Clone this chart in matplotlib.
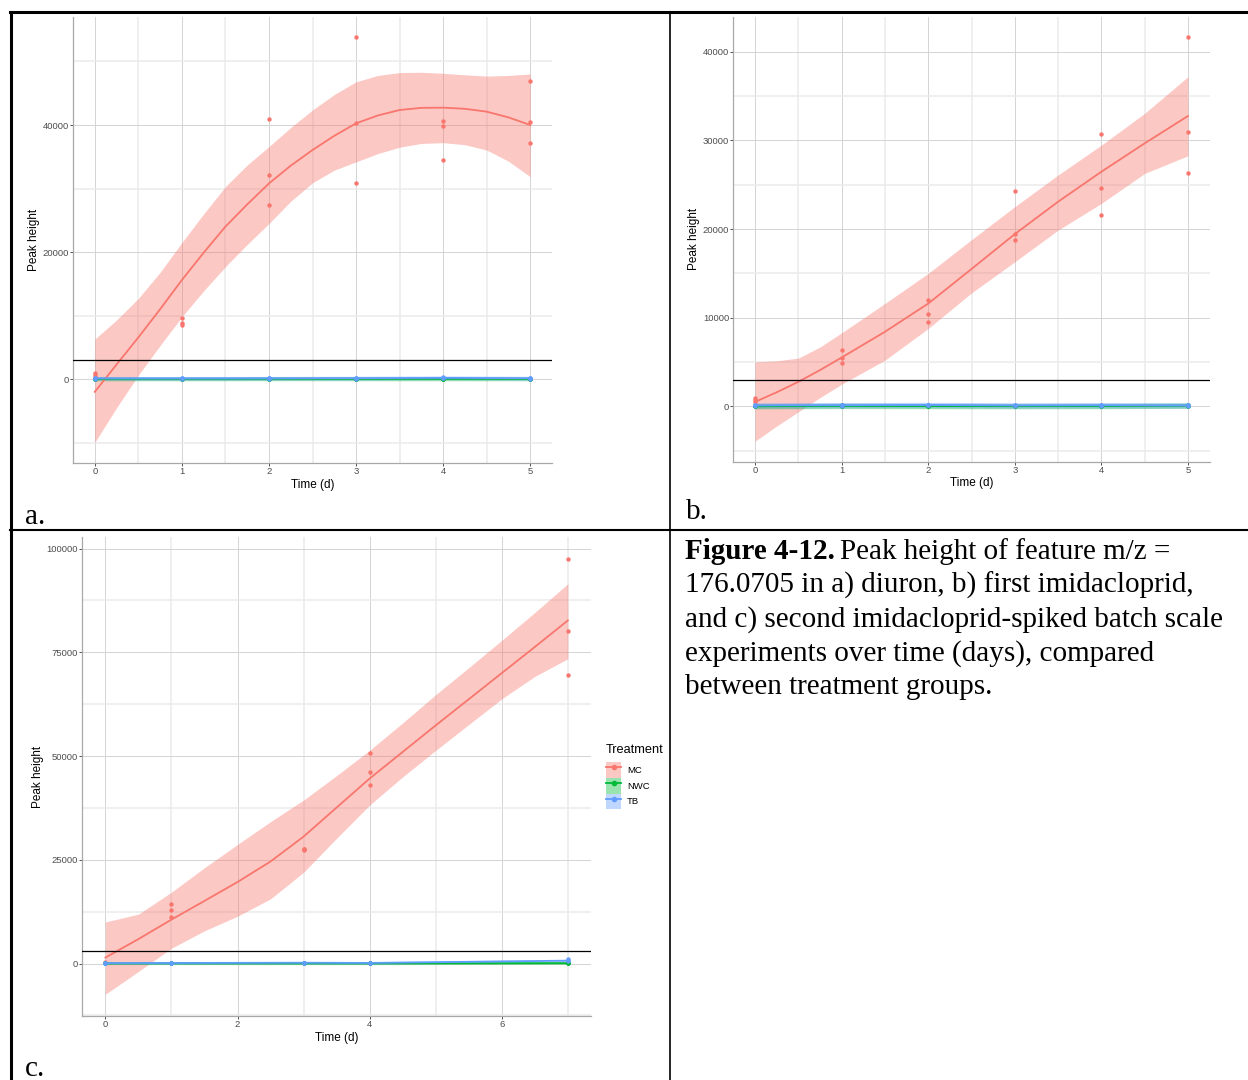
import matplotlib.pyplot as plt
from matplotlib.patches import Patch
from matplotlib.lines import Line2D

plt.rcParams['font.family'] = ['Liberation Sans', 'DejaVu Sans']

W, H = 1248, 1080
MC_COL = '#F8766D'
NWC_COL = '#00BA38'
TB_COL = '#619CFF'
LOQ = 3000

# a) diuron batch
a_days = [0, 1, 2, 3, 4, 5]
a_mc = [[300, 600, 900], [9600, 8900, 8500], [40950, 32200, 27450],
        [53800, 40300, 30800], [40600, 39800, 34500], [47000, 40400, 37200]]
a_nwc = [[20, 40, 60], [30, 40, 50], [40, 50, 70], [30, 40, 60], [20, 40, 50], [30, 40, 60]]
a_tb = [[80, 120, 150], [90, 110, 140], [100, 130, 160], [90, 120, 150], [150, 250, 350], [100, 140, 180]]
a_fit_x = [0, 0.25, 0.5, 0.75, 1, 1.25, 1.5, 1.75, 2, 2.25, 2.5, 2.75, 3,
           3.25, 3.5, 3.75, 4, 4.25, 4.5, 4.75, 5]
a_fit_mc = [-2000, 2300, 6560, 11000, 15600, 19900, 24000, 27500, 30800, 33600, 36060,
            38300, 40260, 41500, 42360, 42700, 42730, 42550, 42100, 41200, 40000]
a_lo_mc = [-9970, -4500, 600, 5300, 9800, 13900, 17700, 21200, 24500, 28000, 30900,
           32900, 34200, 35500, 36500, 37100, 37220, 36900, 36060, 34300, 31860]
a_hi_mc = [6300, 9300, 12700, 16800, 21500, 26000, 30300, 33700, 36600, 39600, 42360,
           44800, 46800, 47800, 48250, 48300, 48140, 47900, 47700, 47800, 48030]
a_fit_nwc = [40, 40, 50, 45, 40, 45]
a_fit_tb = [120, 115, 130, 150, 200, 140]

# b) first imidacloprid batch
b_days = [0, 1, 2, 3, 4, 5]
b_mc = [[1000, 700, 450], [6350, 5520, 4920], [11950, 10370, 9470],
        [24280, 19430, 18720], [30750, 24660, 21610], [41620, 30900, 26350]]
b_nwc = [[20, 40, 60], [40, 80, 150], [30, 50, 70], [20, 40, 60], [30, 50, 70], [50, 100, 150]]
b_tb = [[80, 120, 150], [100, 150, 200], [120, 180, 220], [90, 120, 150], [100, 140, 180], [90, 120, 150]]
b_fit_x = [0, 0.25, 0.5, 0.75, 1, 1.5, 2, 2.5, 3, 3.5, 4, 4.5, 5]
b_fit_mc = [520, 1600, 2780, 4100, 5520, 8420, 11600, 15500, 19430, 23080, 26460, 29660, 32740]
b_lo_mc = [-3910, -2200, -600, 1000, 2510, 5220, 8790, 12800, 16310, 19880, 22890, 26270, 28260]
b_hi_mc = [5030, 5150, 5450, 6700, 8300, 11610, 15000, 18800, 22520, 26090, 29460, 33040, 37170]
b_fit_nwc = [30, 60, 50, 40, 50, 90]
b_fit_tb = [120, 150, 170, 120, 140, 120]

# c) second imidacloprid batch
c_days = [0, 1, 3, 4, 7]
c_mc = [[100, 200, 300], [14450, 13000, 11220], [27700, 27290, 27500],
        [50800, 46200, 43100], [97540, 80110, 69600]]
c_nwc = [[20, 40, 60], [30, 50, 70], [20, 40, 60], [30, 40, 50], [50, 100, 150]]
c_tb = [[80, 120, 150], [100, 140, 180], [150, 200, 250], [100, 150, 200], [600, 900, 1200]]
c_fit_x = [0, 0.5, 1, 1.5, 2, 2.5, 3, 3.5, 4, 4.5, 5, 5.5, 6, 6.5, 7]
c_fit_mc = [1440, 5900, 10600, 15100, 19650, 24600, 30600, 37600, 44600,
            51000, 57400, 63700, 70000, 76300, 82680]
c_lo_mc = [-7390, -1900, 3700, 7900, 11400, 15600, 22000, 30200, 38200,
           45000, 51370, 57600, 63800, 69200, 73460]
c_hi_mc = [10020, 11900, 17200, 23100, 28700, 34200, 39400, 45300, 51400,
           58000, 64800, 71300, 77900, 84600, 91520]
c_fit_nwc = [40, 50, 40, 40, 100]
c_fit_tb = [120, 140, 200, 150, 700]

caption = ['176.0705 in a) diuron, b) first imidacloprid,',
           'and c) second imidacloprid-spiked batch scale',
           'experiments over time (days), compared',
           'between treatment groups.']


def box(left, top, right, bottom):
    return [left / W, 1 - bottom / H, (right - left) / W, (bottom - top) / H]


def draw_panel(ax, days, mc, nwc, tb, fit_x, fit_mc, lo_mc, hi_mc, fit_nwc, fit_tb):
    # smoothers first, points on top
    ax.fill_between(fit_x, lo_mc, hi_mc, color=MC_COL, alpha=0.4, lw=0)
    ax.plot(fit_x, fit_mc, color=MC_COL, lw=1.3, solid_joinstyle='round')
    for fit, col in [(fit_nwc, NWC_COL), (fit_tb, TB_COL)]:
        ax.fill_between(days, [v - 300 for v in fit], [v + 300 for v in fit],
                        color=col, alpha=0.4, lw=0)
        ax.plot(days, fit, color=col, lw=1.3)
    for vals, col in [(mc, MC_COL), (nwc, NWC_COL), (tb, TB_COL)]:
        for d, reps in zip(days, vals):
            ax.scatter([d] * len(reps), reps, s=10, color=col, lw=0, zorder=3)
    ax.axhline(LOQ, color='black', lw=0.9, zorder=4)

    ax.set_facecolor('white')
    for s in ['top', 'right']:
        ax.spines[s].set_visible(False)
    for s in ['left', 'bottom']:
        ax.spines[s].set_color('#A8A8A8')
        ax.spines[s].set_linewidth(0.9)
    ax.tick_params(which='major', length=2, width=0.6, color='#333333',
                   labelcolor='#4D4D4D', labelsize=6.8, pad=1)
    ax.tick_params(which='minor', length=0)
    ax.grid(which='major', color='#D4D4D4', lw=0.7)
    ax.grid(which='minor', color='#EBEBEB', lw=1.1)
    ax.set_axisbelow(True)
    ax.set_xlabel('Time (d)', fontsize=8.5, labelpad=2)
    ax.set_ylabel('Peak height', fontsize=8.5, labelpad=2)


fig = plt.figure(figsize=(W / 100, H / 100), dpi=100)

ax_a = fig.add_axes(box(73, 17, 552, 463))
draw_panel(ax_a, a_days, a_mc, a_nwc, a_tb, a_fit_x, a_fit_mc, a_lo_mc, a_hi_mc, a_fit_nwc, a_fit_tb)
ax_a.set_xlim(-0.25, 5.25)
ax_a.set_ylim(-13200, 57000)
ax_a.set_xticks(a_days, labels=[str(d) for d in a_days])
ax_a.set_xticks([0.5, 1.5, 2.5, 3.5, 4.5], minor=True)
yt = [0, 20000, 40000]
ax_a.set_yticks(yt, labels=[str(t) for t in yt])
ax_a.set_yticks([-10000, 10000, 30000, 50000], minor=True)

ax_b = fig.add_axes(box(733.4, 17, 1209.6, 461.5))
draw_panel(ax_b, b_days, b_mc, b_nwc, b_tb, b_fit_x, b_fit_mc, b_lo_mc, b_hi_mc, b_fit_nwc, b_fit_tb)
ax_b.set_xlim(-0.25, 5.25)
ax_b.set_ylim(-6200, 43900)
ax_b.set_xticks(b_days, labels=[str(d) for d in b_days])
ax_b.set_xticks([0.5, 1.5, 2.5, 3.5, 4.5], minor=True)
yt = [0, 10000, 20000, 30000, 40000]
ax_b.set_yticks(yt, labels=[str(t) for t in yt])
ax_b.set_yticks([-5000, 5000, 15000, 25000, 35000], minor=True)

ax_c = fig.add_axes(box(82.3, 537, 591, 1016))
draw_panel(ax_c, c_days, c_mc, c_nwc, c_tb, c_fit_x, c_fit_mc, c_lo_mc, c_hi_mc, c_fit_nwc, c_fit_tb)
ax_c.set_xlim(-0.35, 7.35)
ax_c.set_ylim(-12640, 102790)
xt = [0, 2, 4, 6]
ax_c.set_xticks(xt, labels=[str(d) for d in xt])
ax_c.set_xticks([1, 3, 5, 7], minor=True)
yt = [0, 25000, 50000, 75000, 100000]
ax_c.set_yticks(yt, labels=[str(t) for t in yt])
ax_c.set_yticks([-12500, 12500, 37500, 62500, 87500], minor=True)

# treatment legend beside panel c
handles = []
for col in [MC_COL, NWC_COL, TB_COL]:
    handles.append((Patch(facecolor=col, alpha=0.4, lw=0),
                    Line2D([], [], color=col, lw=1.3, marker='o', ms=3)))
fig.text(606 / W, 1 - 750 / H, 'Treatment', fontsize=9.2, va='center')
fig.legend(handles, ['MC', 'NWC', 'TB'], loc='upper left',
           bbox_to_anchor=(606 / W, 1 - 762 / H), frameon=False, fontsize=6.8,
           handlelength=1.6, handleheight=2.2, labelspacing=0.0,
           handletextpad=0.6, borderpad=0, borderaxespad=0)

# table rules
rules = [((10, 12), (1248, 12), 2.2), ((11, 12), (11, 1080), 2.2),
         ((670, 12), (670, 1080), 1.2), ((10, 530), (1248, 530), 1.5)]
for (x0, y0), (x1, y1), lw in rules:
    fig.add_artist(Line2D([x0 / W, x1 / W], [1 - y0 / H, 1 - y1 / H], color='black',
                          lw=lw, transform=fig.transFigure))

serif = ['Liberation Serif', 'DejaVu Serif']
for lab, x, y in [('a.', 25, 524), ('b.', 686, 519), ('c.', 25, 1076)]:
    fig.text(x / W, 1 - y / H, lab, family=serif, fontsize=21, va='baseline')

t = fig.text(685 / W, 1 - 559 / H, 'Figure 4-12.', family=serif, fontsize=21,
             fontweight='bold', va='baseline')
fig.canvas.draw()
bb = t.get_window_extent()
fig.text((bb.x1 + 5) / W, 1 - 559 / H, 'Peak height of feature m/z =', family=serif,
         fontsize=21, va='baseline')
for i, line in enumerate(caption):
    fig.text(685 / W, 1 - (559 + 33.8 * (i + 1)) / H, line, family=serif, fontsize=21,
             va='baseline')

fig.savefig('out.png', dpi=100, facecolor='white')
